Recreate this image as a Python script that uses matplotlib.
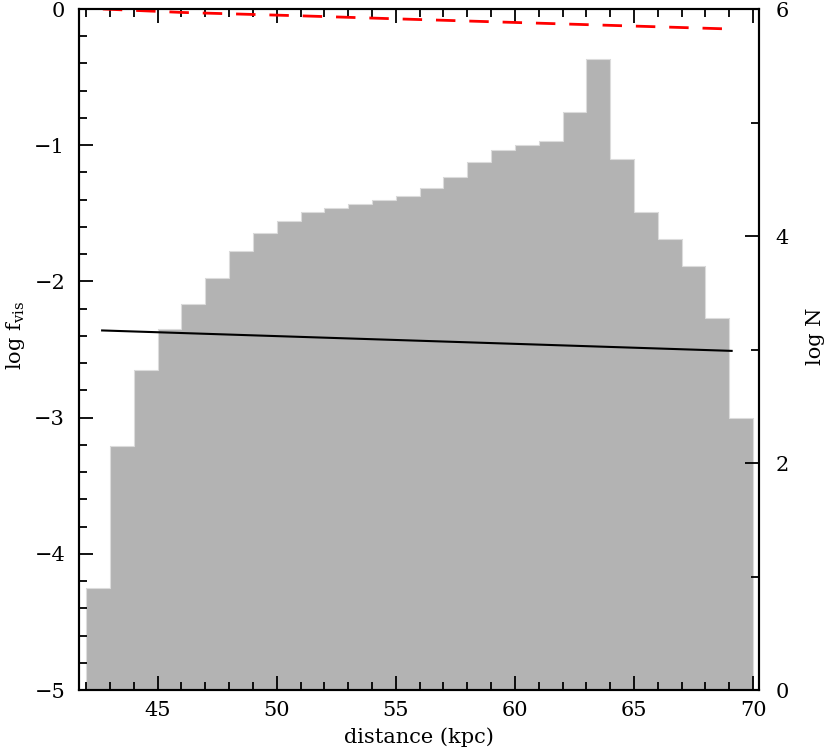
import matplotlib
matplotlib.use("Agg")
import matplotlib.pyplot as plt
from matplotlib.ticker import MultipleLocator, FixedLocator
import numpy as np

plt.rcParams['font.family'] = ['DejaVu Serif']
plt.rcParams['mathtext.fontset'] = 'dejavuserif'

# Histogram: 1-kpc bins, bin edges and log N values
bin_edges = list(range(42, 71))
log_n = [0.90, 2.15, 2.82, 3.18, 3.40, 3.63, 3.87, 4.03, 4.13, 4.21,
         4.25, 4.28, 4.32, 4.35, 4.42, 4.52, 4.65, 4.76, 4.80, 4.84,
         5.09, 5.56, 4.68, 4.21, 3.97, 3.74, 3.28, 2.40]

# Black solid line (log f_vis)
black_x = [42.67, 69.1]
black_y = [-2.36, -2.51]

# Red dashed line (log f_vis)
red_x = [42.7, 46.0, 51.0, 55.0, 59.3, 64.0, 69.1]
red_y = [0.0, -0.025, -0.05, -0.072, -0.095, -0.12, -0.147]

fig = plt.figure(figsize=(8.30, 7.51), dpi=100)
ax = fig.add_axes([0.0952, 0.0812, 0.8193, 0.9068])
ax2 = ax.twinx()

lefts = np.array(bin_edges[:-1])
widths = np.diff(bin_edges)
ax2.bar(lefts, log_n, width=widths, align='edge', color='#b3b3b3',
        edgecolor='#b3b3b3', linewidth=0.6)
# light outline along the top of the histogram
ax2.stairs(log_n, bin_edges, color='#dcdcdc', linewidth=0.8)

ax.set_zorder(ax2.get_zorder() + 1)
ax.patch.set_visible(False)

ax.plot(black_x, black_y, color='black', lw=1.5)
ax.plot(red_x, red_y, color='red', lw=2.0, dashes=(7, 5))

ax.set_xlim(41.7, 70.25)
ax.set_ylim(-5, 0)
ax2.set_ylim(0, 6)

for a in (ax, ax2):
    for s in a.spines.values():
        s.set_linewidth(1.5)

ax.xaxis.set_major_locator(MultipleLocator(5))
ax.xaxis.set_minor_locator(MultipleLocator(1))
ax.yaxis.set_major_locator(MultipleLocator(1))
ax.yaxis.set_minor_locator(MultipleLocator(0.2))
ax2.yaxis.set_major_locator(FixedLocator([0, 2, 4, 6]))
ax2.yaxis.set_minor_locator(FixedLocator([1, 3, 5]))

ax.tick_params(axis='x', which='both', direction='in', top=True, bottom=True,
               labelsize=15, pad=8)
ax.tick_params(axis='y', which='both', direction='in', left=True, right=False,
               labelsize=15, pad=10)
ax.tick_params(which='major', length=10, width=1.3)
ax.tick_params(which='minor', length=6, width=1.3)
ax2.tick_params(axis='y', which='both', direction='in', labelsize=15, pad=12)
ax2.tick_params(which='major', length=10, width=1.3)
ax2.tick_params(which='minor', length=6, width=1.3)

ax.set_xlabel('distance (kpc)', fontsize=15, labelpad=5)
ax.set_ylabel(r'log $\mathregular{f_{vis}}$', fontsize=15, va='center')
ax2.set_ylabel('log N', fontsize=15, va='center')
ax.yaxis.set_label_coords(-0.093, 0.52, transform=ax.transAxes)
ax2.yaxis.set_label_coords(1.083, 0.52, transform=ax2.transAxes)

fig.savefig('out.png', dpi=100)
